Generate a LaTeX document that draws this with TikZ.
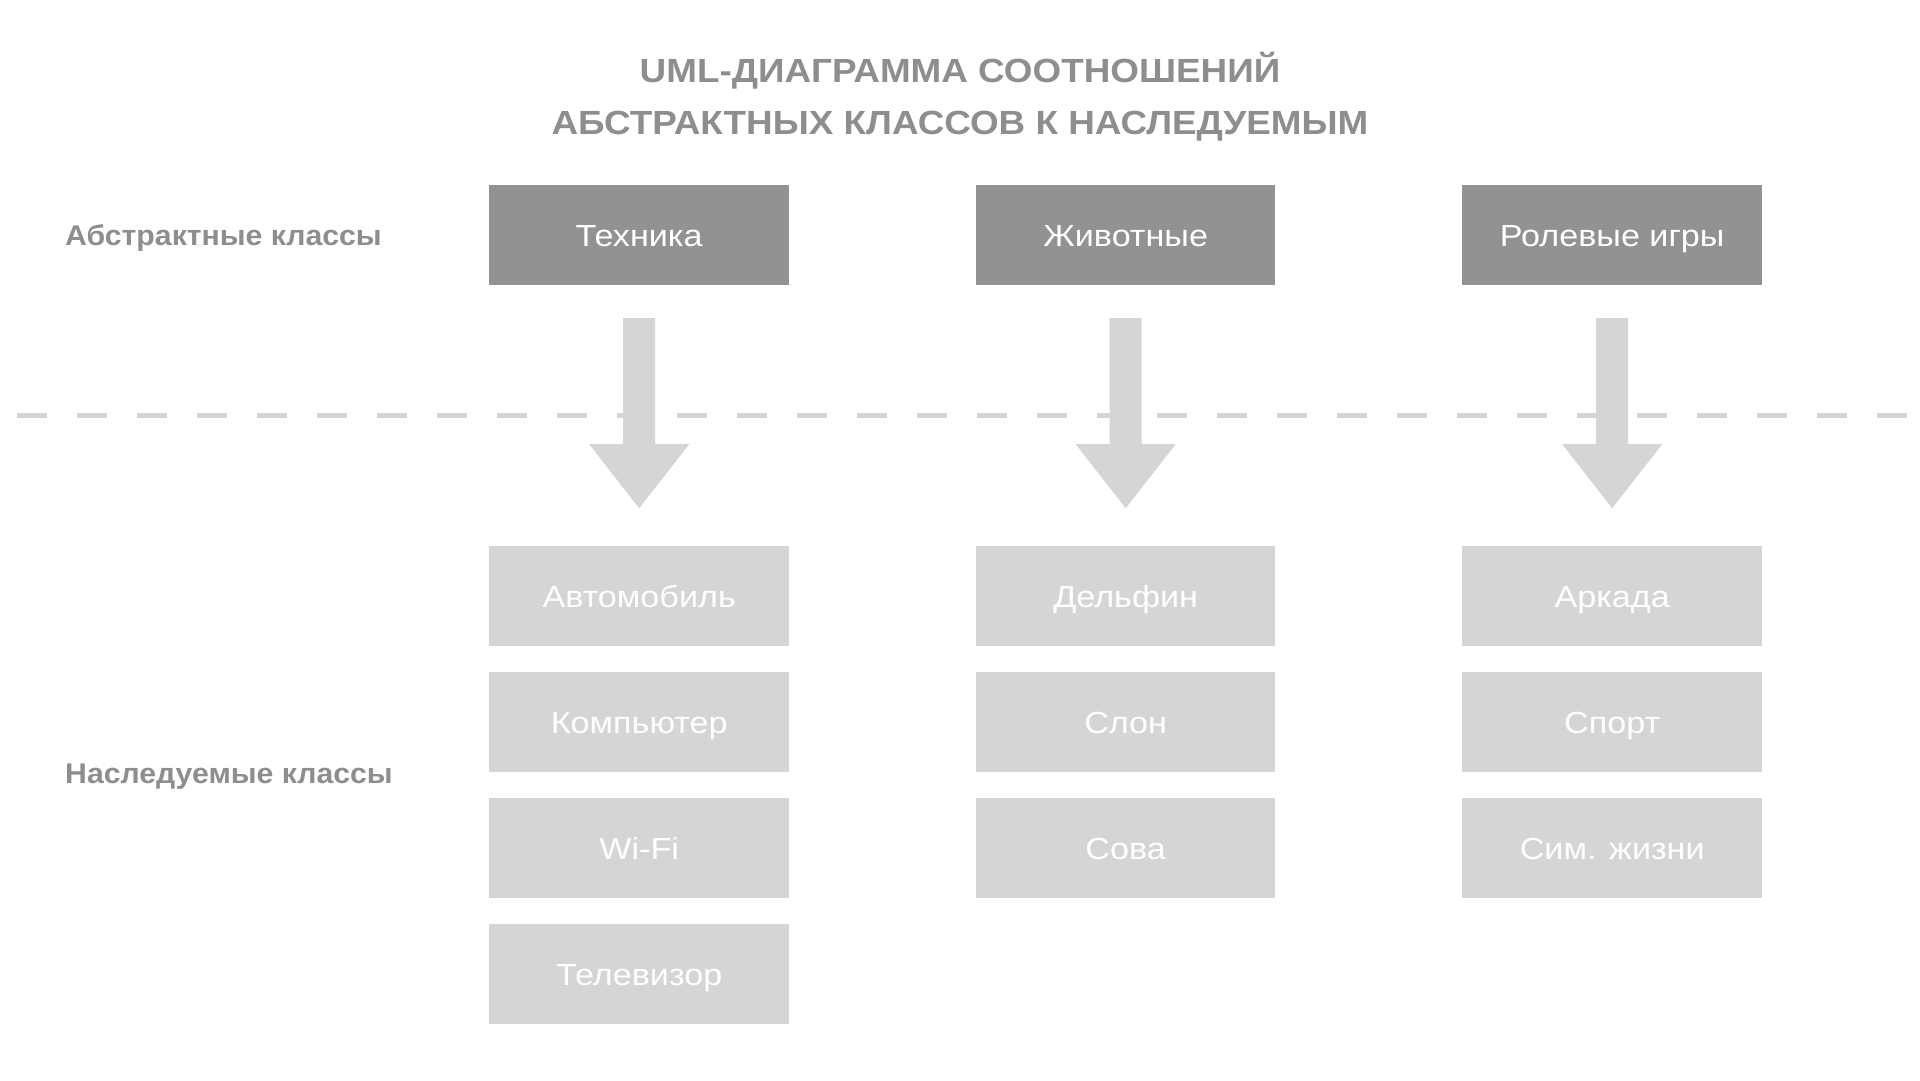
\documentclass[tikz,border=0pt]{standalone}
\usepackage{fontspec}
\setmainfont{Liberation Sans}
\newfontfamily\titlefont[FakeStretch=1.10]{Liberation Sans}
\newfontfamily\labelfont[FakeStretch=1.06]{Liberation Sans}
\newfontfamily\boxfont[FakeStretch=1.12]{Liberation Sans}
\usetikzlibrary{calc}
\definecolor{darkbox}{HTML}{929292}
\definecolor{lightbox}{HTML}{D5D5D5}
\definecolor{labelgray}{HTML}{8E8E8E}
\begin{document}
\begin{tikzpicture}[x=1pt,y=-1pt,
  absbox/.style={fill=darkbox, minimum width=299.5pt, minimum height=100pt, inner sep=0pt,
    text=white, font=\boxfont\fontsize{30.5}{36}\selectfont, text height=22pt, text depth=0pt},
  subbox/.style={fill=lightbox, minimum width=299.5pt, minimum height=100pt, inner sep=0pt,
    text=white, font=\boxfont\fontsize{30.5}{36}\selectfont, text height=22pt, text depth=0pt},
  rowlabel/.style={anchor=west, text=labelgray, font=\labelfont\bfseries\fontsize{28.5}{34}\selectfont,
    inner sep=0pt, text height=20.5pt, text depth=0pt},
  titletext/.style={text=labelgray, font=\titlefont\bfseries\fontsize{33.5}{40}\selectfont,
    inner sep=0pt, text height=24pt, text depth=0pt},
  inherit/.style={fill=lightbox},
  sepline/.style={draw=lightbox, line width=5pt, dash pattern=on 30pt off 30pt}
]
\useasboundingbox[fill=white] (0,0) rectangle (1920,1080);

% title
\node[titletext] (title1) at (960,70.2) {UML-ДИАГРАММА СООТНОШЕНИЙ};
\node[titletext] (title2) at (960,122.8) {АБСТРАКТНЫХ КЛАССОВ К НАСЛЕДУЕМЫМ};

% row labels
\node[rowlabel] (lab1) at (65,235) {Абстрактные классы};
\node[rowlabel] (lab2) at (65,773) {Наследуемые классы};

% separator
\coordinate (sepL) at (16.7,415.5);
\coordinate (sepR) at (1906.7,415.5);
\draw[sepline] (sepL) -- (sepR);

% abstract classes
\node[absbox] (t1) at (639.2,235) {Техника};
\node[absbox] (t2) at (1125.7,235) {Животные};
\node[absbox] (t3) at (1612.2,235) {Ролевые игры};

% inherited classes
\node[subbox] (c11) at (639.2,596) {Автомобиль};
\node[subbox] (c12) at (639.2,722) {Компьютер};
\node[subbox] (c13) at (639.2,848) {Wi-Fi};
\node[subbox] (c14) at (639.2,974) {Телевизор};

\node[subbox] (c21) at (1125.7,596) {Дельфин};
\node[subbox] (c22) at (1125.7,722) {Слон};
\node[subbox] (c23) at (1125.7,848) {Сова};

\node[subbox] (c31) at (1612.2,596) {Аркада};
\node[subbox] (c32) at (1612.2,722) {Спорт};
\node[subbox] (c33) at (1612.2,848) {Сим. жизни};

% inheritance arrows
\foreach \p in {t1,t2,t3}{
  \fill[inherit] ([yshift=-33pt]\p.south) ++(-16,0) -- ++(0,126) -- ++(-34,0)
    -- ++(50,64) -- ++(50,-64) -- ++(-34,0) -- ++(0,-126) -- cycle;
}
\end{tikzpicture}
\end{document}
